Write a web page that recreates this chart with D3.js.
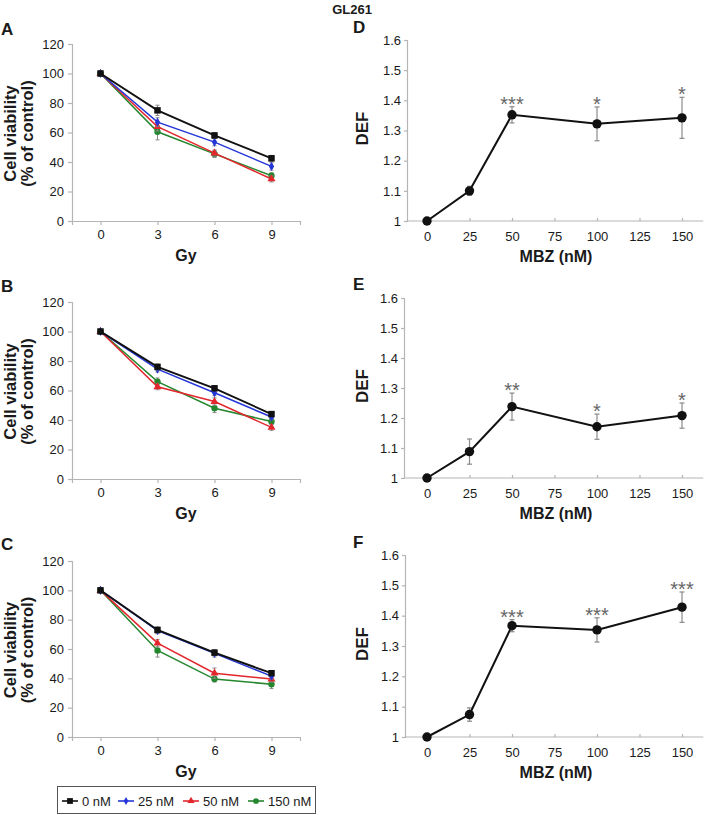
<!DOCTYPE html>
<html><head><meta charset="utf-8">
<script src="https://cdn.jsdelivr.net/npm/d3@7/dist/d3.min.js"></script>
<style>
body{margin:0;background:#fff;}
svg{display:block;font-family:Arial,"Liberation Sans",Helvetica,sans-serif;}
</style></head>
<body><svg id="c" width="705" height="815"></svg>
<script>
// ---------- data ----------
const gyDoses = [0, 3, 6, 9];
const gyTicks = [0, 3, 6, 9];
const viabTicks = [0, 20, 40, 60, 80, 100, 120];
const seriesNames = ["0 nM", "25 nM", "50 nM", "150 nM"];
const seriesColors = ["#111111", "#2436d8", "#e2262c", "#24872e"];
const seriesShapes = ["square", "diamond", "triangle", "circle"];

const A_black = [100, 75, 58, 42.5], A_blue = [100, 67, 53.5, 37], A_red = [100, 64, 46, 28.5], A_green = [100, 60.5, 45.5, 30.7];
const A_blackErr = [1, 3.5, 2, 2], A_blueErr = [1, 3, 2.5, 2.5], A_redErr = [1, 3, 2, 2], A_greenErr = [1, 5.5, 2.5, 2];
const B_black = [100, 76, 61.5, 44], B_blue = [100, 74.5, 58.5, 42], B_red = [100, 62.5, 52.5, 35], B_green = [100, 66, 48, 39];
const B_blackErr = [1, 2, 1.5, 1.5], B_blueErr = [1, 2, 2, 2], B_redErr = [1, 2, 2.5, 2], B_greenErr = [1, 2.5, 3, 2];
const C_black = [100, 73, 57.5, 43.5], C_blue = [100, 72.5, 57, 41.5], C_red = [100, 64, 43.5, 39.5], C_green = [100, 59, 39.5, 36];
const C_blackErr = [1, 2, 2, 1.5], C_blueErr = [1, 2, 2.5, 2], C_redErr = [1, 2.5, 3.5, 2], C_greenErr = [1, 4.5, 2, 3];

const mbzDoses = [0, 25, 50, 100, 150];
const mbzTicks = [0, 25, 50, 75, 100, 125, 150];
const defTicks = [1, 1.1, 1.2, 1.3, 1.4, 1.5, 1.6];
const D_def = [1, 1.10, 1.352, 1.322, 1.342], D_err = [0, 0.015, 0.027, 0.056, 0.068], D_sig = ["", "", "***", "*", "*"];
const E_def = [1, 1.088, 1.238, 1.171, 1.208], E_err = [0, 0.042, 0.045, 0.042, 0.042], E_sig = ["", "", "**", "*", "*"];
const F_def = [1, 1.074, 1.367, 1.353, 1.428], F_err = [0, 0.022, 0.02, 0.04, 0.05], F_sig = ["", "", "***", "***", "***"];

// ---------- drawing ----------
const svg = d3.select("#c");
const axisColor = "#b5b5b5";
const textColor = "#1a1a1a";

svg.append("text").attr("x", 352).attr("y", 14).attr("text-anchor", "middle")
  .attr("font-size", 13).attr("font-weight", "bold").attr("fill", textColor).text("GL261");

function shapeSym(s) {
  return s === "square" ? d3.symbolSquare : s === "diamond" ? d3.symbolDiamond :
         s === "triangle" ? d3.symbolTriangle : d3.symbolCircle;
}
const symSize = { square: 42, diamond: 24, triangle: 28, circle: 32 };

function styleAxis(g) {
  g.selectAll(".domain").attr("stroke", axisColor).attr("stroke-width", 1.2);
  g.selectAll(".tick line").attr("stroke", axisColor).attr("stroke-width", 1.2);
  g.selectAll(".tick text").attr("fill", textColor).attr("font-size", 13)
   .attr("font-family", "Arial, 'Liberation Sans', sans-serif");
}

function gyPanel(label, top, bottom, labTop, series, errs) {
  const x = d3.scaleLinear().domain([-1.5, 10.5]).range([72, 300]);
  const y = d3.scaleLinear().domain([0, 120]).range([bottom, top]);
  const g = svg.append("g");
  const ya = g.append("g").attr("transform", `translate(72,0)`)
    .call(d3.axisLeft(y).tickValues(viabTicks).tickSize(4).tickPadding(4));
  styleAxis(ya);
  const xa = g.append("g").attr("transform", `translate(0,${bottom})`)
    .call(d3.axisBottom(x).tickValues(gyTicks).tickSize(4).tickPadding(5).tickSizeOuter(4));
  styleAxis(xa);

  [3, 2, 1, 0].forEach(i => {
    const vals = series[i], ev = errs[i];
    const pts = gyDoses.map((d, k) => ({ d, v: vals[k], e: ev[k] }));
    const col = seriesColors[i];
    g.selectAll(null).data(pts).enter().append("line")
      .attr("x1", p => x(p.d)).attr("x2", p => x(p.d))
      .attr("y1", p => y(p.v - p.e)).attr("y2", p => y(p.v + p.e))
      .attr("stroke", "#888").attr("stroke-width", 1);
    g.selectAll(null).data(pts).enter().append("g").each(function (p) {
      d3.select(this).selectAll("line").data([p.v - p.e, p.v + p.e]).enter().append("line")
        .attr("x1", x(p.d) - 2).attr("x2", x(p.d) + 2).attr("y1", v => y(v)).attr("y2", v => y(v))
        .attr("stroke", "#888").attr("stroke-width", 1);
    });
    g.append("path").datum(pts)
      .attr("d", d3.line().x(p => x(p.d)).y(p => y(p.v)))
      .attr("fill", "none").attr("stroke", col).attr("stroke-width", i === 0 ? 1.9 : 1.5);
    g.selectAll(null).data(pts).enter().append("path")
      .attr("transform", p => `translate(${x(p.d)},${y(p.v)})`)
      .attr("d", d3.symbol().type(shapeSym(seriesShapes[i])).size(symSize[seriesShapes[i]]))
      .attr("fill", col);
  });

  const mid = (top + bottom) / 2 + 1;
  g.append("text").attr("transform", `translate(16,${mid}) rotate(-90)`).attr("text-anchor", "middle")
    .attr("font-size", 16.5).attr("font-weight", "bold").attr("fill", textColor).text("Cell viability");
  g.append("text").attr("transform", `translate(33,${mid}) rotate(-90)`).attr("text-anchor", "middle")
    .attr("font-size", 16.5).attr("font-weight", "bold").attr("fill", textColor).text("(% of control)");
  g.append("text").attr("x", 186).attr("y", bottom + 40).attr("text-anchor", "middle")
    .attr("font-size", 16).attr("font-weight", "bold").attr("fill", textColor).text("Gy");
  g.append("text").attr("x", 1).attr("y", labTop).attr("font-size", 17).attr("font-weight", "bold")
    .attr("fill", textColor).text(label);
}

function defPanel(label, top, bottom, axisX, labTop, vals, errs, sig) {
  const x = d3.scaleLinear().domain([-12.5, 162.5]).range([405.75, 703.25]);
  const y = d3.scaleLinear().domain([1, 1.6]).range([bottom, top]);
  const g = svg.append("g");
  const ya = g.append("g").attr("transform", `translate(${axisX},0)`)
    .call(d3.axisLeft(y).tickValues(defTicks).tickSize(3).tickPadding(3).tickFormat(d3.format("~g")));
  styleAxis(ya);
  const xa = g.append("g").attr("transform", `translate(0,${bottom})`)
    .call(d3.axisBottom(x).tickValues(mbzTicks).tickSize(-3).tickPadding(11).tickSizeOuter(0));
  styleAxis(xa);
  xa.select(".domain").attr("d", `M${axisX},0H${x(162.5)}`);

  const pts = mbzDoses.map((d, k) => ({ d, v: vals[k], e: errs[k], s: sig[k] }));
  pts.filter(p => p.e > 0).forEach(p => {
    g.append("line").attr("x1", x(p.d)).attr("x2", x(p.d)).attr("y1", y(p.v - p.e)).attr("y2", y(p.v + p.e))
      .attr("stroke", "#8a8a8a").attr("stroke-width", 1.2);
    [p.v - p.e, p.v + p.e].forEach(v => g.append("line").attr("x1", x(p.d) - 2.5).attr("x2", x(p.d) + 2.5)
      .attr("y1", y(v)).attr("y2", y(v)).attr("stroke", "#8a8a8a").attr("stroke-width", 1.2));
  });
  g.append("path").datum(pts).attr("d", d3.line().x(p => x(p.d)).y(p => y(p.v)))
    .attr("fill", "none").attr("stroke", "#111").attr("stroke-width", 2);
  g.selectAll(null).data(pts).enter().append("circle")
    .attr("cx", p => x(p.d)).attr("cy", p => y(p.v)).attr("r", 4.7).attr("fill", "#111");
  g.selectAll(null).data(pts.filter(p => p.s)).enter().append("text")
    .attr("x", p => x(p.d)).attr("y", p => y(p.v + p.e) + 4).attr("text-anchor", "middle")
    .attr("font-size", 20).attr("fill", "#666").text(p => p.s);

  g.append("text").attr("transform", `translate(368,${(top + bottom) / 2 - 2}) rotate(-90)`).attr("text-anchor", "middle")
    .attr("font-size", 17).attr("font-weight", "bold").attr("fill", textColor).text("DEF");
  g.append("text").attr("x", 556).attr("y", bottom + 41).attr("text-anchor", "middle")
    .attr("font-size", 16).attr("font-weight", "bold").attr("fill", textColor).text("MBZ (nM)");
  g.append("text").attr("x", 353).attr("y", labTop).attr("font-size", 17).attr("font-weight", "bold")
    .attr("fill", textColor).text(label);
}

gyPanel("A", 44, 221, 35, [A_black, A_blue, A_red, A_green], [A_blackErr, A_blueErr, A_redErr, A_greenErr]);
gyPanel("B", 302, 479, 292, [B_black, B_blue, B_red, B_green], [B_blackErr, B_blueErr, B_redErr, B_greenErr]);
gyPanel("C", 561, 737, 550, [C_black, C_blue, C_red, C_green], [C_blackErr, C_blueErr, C_redErr, C_greenErr]);

defPanel("D", 40, 221, 407, 33, D_def, D_err, D_sig);
defPanel("E", 298, 478, 404, 290, E_def, E_err, E_sig);
defPanel("F", 555, 737, 405, 548, F_def, F_err, F_sig);

// legend
const lg = svg.append("g");
lg.append("rect").attr("x", 57.5).attr("y", 786.5).attr("width", 258).attr("height", 27)
  .attr("fill", "#fff").attr("stroke", "#555").attr("stroke-width", 1);
const legX = [62, 118, 183, 248];
seriesNames.forEach((n, i) => {
  const lx = legX[i];
  lg.append("line").attr("x1", lx).attr("x2", lx + 16).attr("y1", 801).attr("y2", 801)
    .attr("stroke", seriesColors[i]).attr("stroke-width", 1.6);
  lg.append("path").attr("transform", `translate(${lx + 8},801)`)
    .attr("d", d3.symbol().type(shapeSym(seriesShapes[i])).size(symSize[seriesShapes[i]] * 0.8)).attr("fill", seriesColors[i]);
  lg.append("text").attr("x", lx + 20).attr("y", 805.5).attr("font-size", 13).attr("fill", textColor).text(n);
});
</script></body></html>
